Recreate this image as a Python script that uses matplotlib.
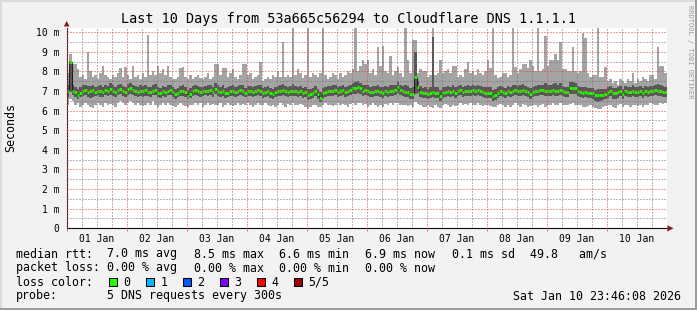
import numpy as np
import pandas as pd
import matplotlib
matplotlib.use('Agg')
import matplotlib.pyplot as plt
import matplotlib.dates as mdates
from matplotlib.ticker import MultipleLocator, FuncFormatter, NullFormatter
from matplotlib.patches import Rectangle, Polygon

# ---------------- data (ms, hourly from 01 Jan 00:00) ----------------
start = "2026-01-01 00:00"
hours = 240

p5_max = [
    7.9, 8.9, 8.4, 8.4, 8.1, 7.7, 7.8, 7.6, 9.0, 8.0,
    7.7, 7.8, 7.6, 7.9, 8.3, 7.8, 7.7, 7.6, 7.8, 7.7,
    7.9, 8.2, 7.7, 8.25, 7.8, 7.6, 8.3, 7.7, 7.8, 7.6,
    7.9, 7.7, 9.86, 7.8, 8.0, 7.8, 8.3, 7.9, 8.1, 7.8,
    8.3, 7.7, 7.6, 7.6, 7.7, 8.2, 8.25, 7.7, 7.6, 7.8,
    7.6, 7.7, 7.8, 7.65, 7.6, 7.7, 7.9, 7.6, 7.7, 8.4,
    8.4, 7.8, 8.2, 8.2, 7.7, 7.9, 8.1, 7.7, 7.6, 7.8,
    8.4, 8.4, 7.8, 7.9, 7.6, 7.7, 7.8, 8.5, 7.5, 7.6,
    7.7, 7.6, 7.8, 7.7, 8.0, 7.7, 9.5, 7.7, 7.8, 7.7,
    10.3, 7.8, 8.1, 7.9, 7.65, 7.8, 10.3, 7.7, 7.9, 7.8,
    7.7, 7.9, 10.3, 7.8, 7.6, 7.7, 7.9, 7.8, 7.6, 7.9,
    7.7, 7.8, 8.0, 7.9, 8.1, 10.3, 8.0, 8.3, 8.6, 8.4,
    8.6, 7.9, 8.1, 7.8, 9.27, 8.3, 9.3, 8.0, 7.9, 8.8,
    7.8, 8.0, 8.25, 7.9, 7.7, 10.3, 8.6, 7.9, 9.6, 9.6,
    7.9, 8.1, 8.0, 8.0, 7.7, 7.8, 10.3, 7.8, 7.9, 8.6,
    7.9, 8.0, 8.1, 7.9, 8.3, 8.3, 7.7, 7.8, 7.7, 8.1,
    8.5, 7.9, 8.0, 7.8, 8.1, 7.9, 7.8, 8.0, 8.6, 8.2,
    10.3, 7.8, 7.65, 7.7, 7.9, 7.9, 7.7, 7.8, 10.3, 8.25,
    7.9, 8.1, 8.4, 8.4, 8.2, 8.6, 8.3, 8.0, 10.3, 8.0,
    8.1, 9.8, 8.3, 8.6, 8.6, 8.9, 8.6, 9.5, 8.1, 8.1,
    8.0, 8.0, 9.27, 8.0, 7.9, 8.0, 9.95, 9.7, 7.9, 7.7,
    7.8, 7.8, 10.3, 7.7, 7.7, 8.25, 7.5, 7.6, 7.4, 7.5,
    7.3, 7.6, 7.5, 7.4, 7.6, 7.5, 7.9, 7.4, 7.6, 7.5,
    7.7, 7.6, 7.5, 7.8, 7.8, 7.6, 9.27, 8.3, 8.3, 7.9,
]

p4_high = [
    7.3, 8.55, 7.3, 7.2, 7.1, 7.2, 7.3, 7.3, 7.25, 7.25,
    7.3, 7.2, 7.25, 7.3, 7.2, 7.3, 7.25, 7.4, 7.3, 7.2,
    7.3, 7.35, 7.25, 7.2, 7.35, 7.4, 7.3, 7.25, 7.2, 7.3,
    7.25, 7.3, 7.2, 7.2, 7.3, 7.35, 7.2, 7.15, 7.25, 7.2,
    7.3, 7.3, 7.2, 7.1, 7.15, 7.25, 7.3, 7.2, 7.05, 7.15,
    7.25, 7.3, 7.25, 7.2, 7.2, 7.25, 7.3, 7.3, 7.2, 7.4,
    7.3, 7.2, 7.3, 7.15, 7.2, 7.25, 7.3, 7.2, 7.25, 7.3,
    7.3, 7.15, 7.25, 7.25, 7.2, 7.25, 7.3, 7.3, 7.15, 7.2,
    7.25, 7.15, 7.1, 7.2, 7.25, 7.3, 7.35, 7.25, 7.2, 7.25,
    7.35, 7.25, 7.2, 7.25, 7.15, 7.2, 7.1, 7.1, 7.15, 7.25,
    7.1, 6.95, 7.15, 7.2, 7.25, 7.25, 7.3, 7.3, 7.2, 7.25,
    7.3, 7.2, 7.25, 7.3, 7.4, 7.45, 7.5, 7.4, 7.3, 7.3,
    7.3, 7.2, 7.25, 7.25, 7.3, 7.2, 7.2, 7.25, 7.2, 7.3,
    7.3, 7.3, 7.45, 7.3, 7.25, 7.3, 7.25, 7.15, 7.2, 9.0,
    7.5, 7.25, 7.15, 7.2, 7.1, 7.2, 9.78, 7.2, 7.2, 7.05,
    7.2, 7.2, 7.25, 7.2, 7.3, 7.2, 7.25, 7.3, 7.2, 7.25,
    7.3, 7.25, 7.3, 7.25, 7.3, 7.25, 7.2, 7.2, 7.2, 7.2,
    7.05, 7.1, 7.2, 7.25, 7.2, 7.15, 7.25, 7.2, 7.3, 7.3,
    7.25, 7.3, 7.35, 7.25, 7.2, 7.15, 7.2, 7.25, 7.3, 7.3,
    7.3, 7.4, 7.3, 7.3, 7.35, 7.4, 7.3, 7.4, 7.25, 7.2,
    7.2, 7.45, 7.45, 7.4, 7.25, 7.2, 7.2, 7.2, 7.15, 7.15,
    7.15, 7.05, 7.1, 7.1, 7.1, 7.1, 7.2, 7.25, 7.15, 7.15,
    7.2, 7.25, 7.1, 7.25, 7.2, 7.2, 7.3, 7.2, 7.2, 7.25,
    7.15, 7.25, 7.2, 7.25, 7.25, 7.3, 7.35, 7.3, 7.25, 7.2,
]

median = [
    7.0, 8.5, 7.0, 6.95, 6.8, 6.9, 7.0, 7.05, 6.95, 7.0,
    7.05, 6.95, 7.0, 7.0, 6.95, 7.05, 7.0, 7.1, 7.0, 6.95,
    7.05, 7.1, 7.0, 6.95, 7.1, 7.15, 7.05, 7.0, 6.95, 7.0,
    7.0, 7.05, 6.95, 6.95, 7.0, 7.05, 6.9, 6.9, 7.0, 6.95,
    7.0, 7.05, 6.95, 6.85, 6.9, 7.0, 7.0, 6.95, 6.75, 6.85,
    7.0, 7.05, 7.0, 6.95, 7.0, 7.0, 7.0, 7.05, 6.95, 7.1,
    7.0, 6.95, 7.0, 6.9, 6.9, 7.0, 7.0, 6.95, 7.0, 7.05,
    7.0, 6.9, 7.0, 7.0, 6.95, 7.0, 7.05, 7.0, 6.9, 6.95,
    7.0, 6.9, 6.85, 6.95, 7.0, 7.0, 7.05, 7.0, 6.95, 7.0,
    7.0, 7.0, 6.95, 7.0, 6.9, 6.95, 6.8, 6.85, 6.9, 7.0,
    6.85, 6.65, 6.9, 6.95, 7.0, 7.0, 7.0, 7.05, 6.95, 7.0,
    7.05, 6.95, 7.0, 7.05, 7.15, 7.15, 7.2, 7.15, 7.0, 7.05,
    7.0, 6.95, 6.95, 7.0, 7.0, 6.95, 6.9, 7.0, 6.95, 7.0,
    7.0, 7.05, 7.2, 7.05, 7.0, 6.95, 6.95, 6.85, 6.85, 7.7,
    7.2, 6.95, 6.9, 6.9, 6.85, 6.9, 6.95, 6.9, 6.9, 6.75,
    6.9, 6.95, 7.0, 6.95, 7.0, 6.9, 7.0, 7.05, 6.95, 7.0,
    7.0, 7.0, 7.05, 7.0, 7.05, 7.0, 6.95, 6.9, 6.9, 6.9,
    6.75, 6.8, 6.9, 7.0, 6.95, 6.9, 7.0, 6.95, 7.0, 7.05,
    7.0, 7.0, 7.05, 7.0, 6.95, 6.85, 6.95, 7.0, 7.0, 7.05,
    7.05, 7.0, 7.0, 7.0, 7.05, 7.0, 7.0, 7.05, 7.0, 6.95,
    6.95, 7.15, 7.15, 7.15, 7.0, 6.95, 6.9, 6.95, 6.9, 6.9,
    6.9, 6.8, 6.8, 6.8, 6.8, 6.85, 6.95, 7.0, 6.9, 6.9,
    6.95, 7.0, 6.85, 7.0, 6.95, 6.95, 7.0, 6.95, 6.95, 7.0,
    6.9, 7.0, 6.95, 7.0, 7.0, 7.05, 7.0, 7.0, 6.95, 6.95,
]

p2_low = [
    6.7, 6.95, 6.8, 6.7, 6.6, 6.7, 6.75, 6.8, 6.7, 6.65,
    6.7, 6.75, 6.8, 6.7, 6.7, 6.8, 6.75, 6.8, 6.75, 6.7,
    6.8, 6.85, 6.75, 6.7, 6.8, 6.85, 6.8, 6.75, 6.7, 6.75,
    6.7, 6.75, 6.75, 6.7, 6.8, 6.8, 6.7, 6.65, 6.75, 6.7,
    6.8, 6.8, 6.7, 6.6, 6.7, 6.75, 6.75, 6.7, 6.6, 6.65,
    6.75, 6.8, 6.75, 6.7, 6.75, 6.8, 6.75, 6.8, 6.7, 6.85,
    6.75, 6.7, 6.75, 6.65, 6.7, 6.75, 6.75, 6.7, 6.75, 6.8,
    6.75, 6.7, 6.75, 6.75, 6.7, 6.75, 6.8, 6.75, 6.65, 6.7,
    6.75, 6.65, 6.6, 6.7, 6.75, 6.75, 6.8, 6.75, 6.7, 6.75,
    6.75, 6.75, 6.7, 6.75, 6.65, 6.7, 6.55, 6.6, 6.65, 6.75,
    6.6, 6.45, 6.65, 6.7, 6.75, 6.75, 6.75, 6.8, 6.7, 6.75,
    6.8, 6.7, 6.75, 6.8, 6.85, 6.85, 6.9, 6.85, 6.75, 6.8,
    6.75, 6.7, 6.7, 6.75, 6.75, 6.7, 6.65, 6.75, 6.7, 6.75,
    6.75, 6.8, 6.9, 6.8, 6.75, 6.7, 6.7, 6.6, 6.6, 6.85,
    6.9, 6.7, 6.65, 6.65, 6.6, 6.65, 6.7, 6.65, 6.65, 6.5,
    6.65, 6.7, 6.75, 6.7, 6.75, 6.65, 6.75, 6.8, 6.7, 6.75,
    6.75, 6.75, 6.8, 6.75, 6.8, 6.75, 6.7, 6.65, 6.65, 6.65,
    6.5, 6.55, 6.65, 6.75, 6.7, 6.65, 6.75, 6.7, 6.75, 6.8,
    6.75, 6.75, 6.8, 6.75, 6.7, 6.6, 6.7, 6.75, 6.75, 6.8,
    6.8, 6.75, 6.75, 6.75, 6.8, 6.75, 6.75, 6.8, 6.75, 6.7,
    6.7, 6.85, 6.85, 6.85, 6.75, 6.7, 6.65, 6.7, 6.65, 6.65,
    6.6, 6.5, 6.45, 6.5, 6.55, 6.6, 6.65, 6.75, 6.6, 6.6,
    6.65, 6.75, 6.6, 6.75, 6.7, 6.7, 6.75, 6.7, 6.7, 6.75,
    6.65, 6.75, 6.7, 6.75, 6.75, 6.8, 6.75, 6.75, 6.7, 6.7,
]

p1_min = [
    6.3, 6.6, 6.5, 6.3, 6.4, 6.2, 6.3, 6.4, 6.3, 6.2,
    6.15, 6.3, 6.4, 6.3, 6.2, 6.4, 6.3, 6.35, 6.3, 6.2,
    6.4, 6.5, 6.4, 6.3, 6.4, 6.5, 6.4, 6.3, 6.4, 6.3,
    6.25, 6.3, 6.4, 6.3, 6.5, 6.3, 6.2, 6.3, 6.4, 6.3,
    6.4, 6.3, 6.25, 6.2, 6.3, 6.4, 6.3, 6.25, 6.2, 6.3,
    6.3, 6.4, 6.3, 6.4, 6.2, 6.3, 6.4, 6.3, 6.35, 6.3,
    6.3, 6.4, 6.2, 6.3, 6.4, 6.3, 6.25, 6.3, 6.4, 6.3,
    6.35, 6.3, 6.4, 6.3, 6.2, 6.3, 6.4, 6.3, 6.3, 6.4,
    6.3, 6.25, 6.3, 6.2, 6.3, 6.4, 6.3, 6.2, 6.35, 6.3,
    6.4, 6.3, 6.3, 6.35, 6.3, 6.2, 6.1, 6.2, 6.3, 6.3,
    6.2, 6.2, 6.3, 6.4, 6.3, 6.3, 6.25, 6.3, 6.4, 6.3,
    6.35, 6.3, 6.2, 6.35, 6.4, 6.3, 6.4, 6.4, 6.3, 6.35,
    6.2, 6.3, 6.4, 6.3, 6.2, 6.3, 6.2, 6.35, 6.3, 6.4,
    6.3, 6.4, 6.4, 6.3, 6.3, 6.3, 6.25, 6.3, 6.2, 6.45,
    6.35, 6.3, 6.2, 6.2, 6.3, 6.2, 6.15, 6.3, 6.2, 6.15,
    6.3, 6.35, 6.3, 6.2, 6.3, 6.25, 6.3, 6.4, 6.3, 6.35,
    6.3, 6.4, 6.3, 6.3, 6.4, 6.3, 6.25, 6.3, 6.3, 6.25,
    6.2, 6.2, 6.3, 6.35, 6.3, 6.2, 6.3, 6.2, 6.3, 6.4,
    6.3, 6.2, 6.35, 6.3, 6.2, 6.25, 6.3, 6.3, 6.2, 6.3,
    6.35, 6.2, 6.3, 6.3, 6.4, 6.3, 6.3, 6.4, 6.3, 6.3,
    6.3, 6.35, 6.4, 6.3, 6.3, 6.3, 6.2, 6.2, 6.25, 6.3,
    6.2, 6.15, 6.1, 6.1, 6.2, 6.25, 6.3, 6.3, 6.2, 6.15,
    6.3, 6.35, 6.2, 6.3, 6.3, 6.2, 6.3, 6.3, 6.25, 6.3,
    6.2, 6.3, 6.3, 6.4, 6.35, 6.3, 6.3, 6.4, 6.35, 6.4,
]

y_ticks = [0, 1, 2, 3, 4, 5, 6, 7, 8, 9, 10]

title = "Last 10 Days from 53a665c56294 to Cloudflare DNS 1.1.1.1"
rtt_label = "median rtt:"
rtt_stats = ["7.0 ms avg", "8.5 ms max", "6.6 ms min", "6.9 ms now", "0.1 ms sd", "49.8   am/s"]
loss_label = "packet loss:"
loss_stats = ["0.00 % avg", "0.00 % max", "0.00 % min", "0.00 % now"]
loss_color_label = "loss color:"
loss_names = ["0", "1", "2", "3", "4", "5/5"]
loss_colors = ["#26ff00", "#00b8ff", "#0059ff", "#7e00ff", "#ff0000", "#a10000"]
probe_label = "probe:"
probe_text = "5 DNS requests every 300s"
stamp = "Sat Jan 10 23:46:08 2026"
watermark = "RRDTOOL / TOBI OETIKER"

# ---------------- figure ----------------
W, H = 697, 310
MONO = "DejaVu Sans Mono"
fig = plt.figure(figsize=(W / 100, H / 100), dpi=100, facecolor="#f2f2f2")

def fx(x):
    return x / W

def fy(y):
    return 1 - y / H

AX_L, AX_R, AX_T, AX_B = 66.5, 666.5, 27.7, 228.3
ax = fig.add_axes([fx(AX_L), fy(AX_B), fx(AX_R) - fx(AX_L), fy(AX_T) - fy(AX_B)])
ax.set_facecolor("white")

edges = pd.date_range(start, periods=hours + 1, freq="h")
t0 = edges[:-1]
t1 = edges[1:]

def ext(a):
    return np.append(np.asarray(a, float), a[-1])

light = "#a4a4a4"
dark = "#585858"
ax.fill_between(edges, ext(p1_min), ext(p5_max), step="post", color=light, lw=0, zorder=1)
ax.fill_between(edges, ext(p2_low), ext(p4_high), step="post", color=dark, lw=0, zorder=1.1)
ax.step(edges, ext(median), where="post", color="#202020", lw=0.8, zorder=1.2)
ax.hlines(median, t0, t1, color=loss_colors[0], lw=2.0, zorder=1.3)

ax.set_xlim(edges[0], edges[-1])
ax.set_ylim(0, 10.23)

# axes / ticks
ax.xaxis.set_major_locator(mdates.DayLocator())
ax.xaxis.set_major_formatter(NullFormatter())
ax.xaxis.set_minor_locator(mdates.HourLocator(byhour=[6, 12, 18]))

def xfmt(v, pos):
    d = mdates.num2date(v)
    return d.strftime("%d %b") if d.hour == 12 else ""

ax.xaxis.set_minor_formatter(FuncFormatter(xfmt))
ax.yaxis.set_major_locator(MultipleLocator(1))
ax.yaxis.set_minor_locator(MultipleLocator(0.5))
ax.set_yticks(y_ticks)
ax.set_yticklabels(["0" if v == 0 else f"{v} m" for v in y_ticks])

ax.tick_params(axis="x", which="major", length=2.5, width=0.7, color="#e87070", direction="out")
ax.tick_params(axis="x", which="minor", length=0, pad=4.0, labelsize=7.05)
ax.tick_params(axis="y", which="both", length=0, pad=5.2, labelsize=7.05)
for lab in ax.get_xticklabels(which="both") + ax.get_yticklabels():
    lab.set_fontfamily(MONO)

ax.grid(which="major", color=(0.92, 0.25, 0.25, 0.28), lw=0.72, linestyle=(0, (1, 2)))
ax.grid(which="minor", color=(0.45, 0.45, 0.45, 0.22), lw=0.72, linestyle=(0, (1, 2)))
ax.set_axisbelow(False)

for s in ["top", "right"]:
    ax.spines[s].set_visible(False)
ax.spines["left"].set_color("#301818")
ax.spines["bottom"].set_color("#101010")
ax.spines["left"].set_linewidth(0.8)
ax.spines["bottom"].set_linewidth(0.8)

# arrows
arrow_c = "#8b1a1a"
fig.add_artist(Polygon([(fx(63.8), fy(26.5)), (fx(69.6), fy(26.5)), (fx(66.7), fy(21.0))],
                       closed=True, transform=fig.transFigure, color=arrow_c, lw=0))
fig.add_artist(Polygon([(fx(667.5), fy(225.3)), (fx(667.5), fy(231.3)), (fx(673.5), fy(228.3))],
                       closed=True, transform=fig.transFigure, color=arrow_c, lw=0))

# title, y label, watermark
fig.text(0.5, fy(23.3), title, ha="center", va="baseline", fontsize=9.74, family=MONO)
fig.text(fx(10.5), fy(128), "Seconds", rotation=90, ha="center", va="center", fontsize=8.37, family=MONO)
fig.text(fx(690), fy(5), watermark, rotation=270, ha="center", va="top", fontsize=5.0,
         family=MONO, color="#999999")

# legend text
FS = 8.37
cols = [107.3, 193.7, 279.3, 365.3, 451.7, 530.0]
fig.text(fx(16), fy(257.5), rtt_label, fontsize=FS, family=MONO, va="baseline")
for x, s in zip(cols, rtt_stats):
    fig.text(fx(x), fy(257.5), s, fontsize=FS, family=MONO, va="baseline")
fig.text(fx(16), fy(271.5), loss_label, fontsize=FS, family=MONO, va="baseline")
for x, s in zip(cols, loss_stats):
    fig.text(fx(x), fy(271.5), s, fontsize=FS, family=MONO, va="baseline")
fig.text(fx(16), fy(285.5), loss_color_label, fontsize=FS, family=MONO, va="baseline")
box_x = [108.7, 145.7, 182.7, 219.7, 256.7, 293.7]
for bx, name, c in zip(box_x, loss_names, loss_colors):
    fig.add_artist(Rectangle((fx(bx), fy(285.5)), 8 / W, 8 / H, transform=fig.transFigure,
                             facecolor=c, edgecolor="black", lw=0.75))
    fig.text(fx(bx + 14.5), fy(285.5), name, fontsize=FS, family=MONO, va="baseline")
fig.text(fx(16), fy(299.5), probe_label, fontsize=FS, family=MONO, va="baseline")
fig.text(fx(107.3), fy(299.5), probe_text, fontsize=FS, family=MONO, va="baseline")
fig.text(fx(681), fy(299.5), stamp, fontsize=FS, family=MONO, va="baseline", ha="right")

# frame shading
fig.add_artist(Rectangle((0, fy(2)), 1, 2 / H, transform=fig.transFigure, color="#dcdcdc", lw=0))
fig.add_artist(Rectangle((0, 0), 2 / W, 1, transform=fig.transFigure, color="#dcdcdc", lw=0))
fig.add_artist(Rectangle((0, 0), 1, 2.5 / H, transform=fig.transFigure, color="#9c9c9c", lw=0))
fig.add_artist(Rectangle((1 - 2.5 / W, 0), 2.5 / W, 1, transform=fig.transFigure, color="#9c9c9c", lw=0))

fig.savefig("out.png", dpi=100, facecolor=fig.get_facecolor())
